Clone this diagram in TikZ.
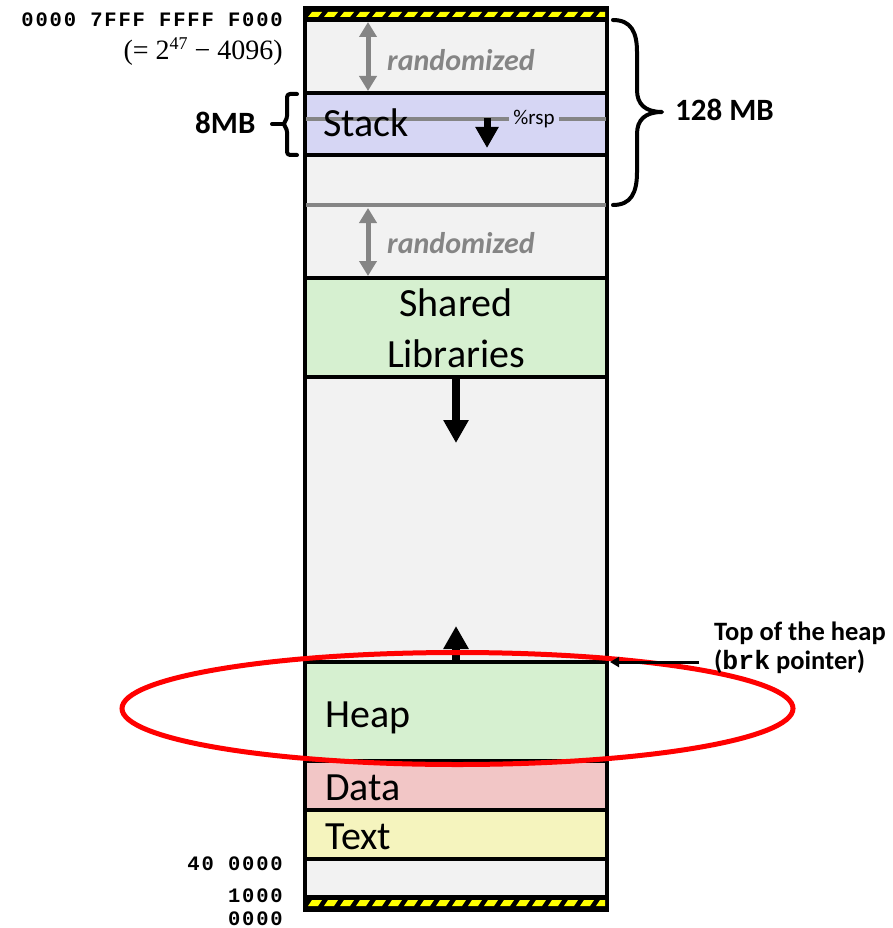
\documentclass[tikz,border=0pt]{standalone}
\usepackage{fontspec}
\setmainfont{Carlito}
\setmonofont{Liberation Mono}
\newfontfamily\eqfont{Liberation Serif}
\usetikzlibrary{arrows.meta}

\definecolor{bggray}{HTML}{F2F2F2}
\definecolor{stackcol}{HTML}{D6D6F4}
\definecolor{libcol}{HTML}{D6F0D0}
\definecolor{datacol}{HTML}{F2C6C6}
\definecolor{textcol}{HTML}{F5F4BE}
\definecolor{midgray}{HTML}{858585}
\definecolor{hatchyellow}{HTML}{FFFF00}

\tikzset{
  seg/.style={rectangle, draw=black, line width=4pt, minimum width=302pt,
    inner sep=0pt, outer sep=0pt},
  bigtext/.style={font=\fontsize{40}{48}\selectfont, inner sep=0pt},
  randtext/.style={font=\fontsize{30}{34}\selectfont\bfseries\itshape,
    text=midgray, inner sep=0pt, anchor=base west},
  randarrow/.style={draw=midgray, line width=5pt,
    {Triangle[width=17pt,length=15pt]}-{Triangle[width=17pt,length=15pt]}},
  growarrow/.style={draw=black, line width=8pt,
    -{Triangle[width=24pt,length=23pt]}},
  addr/.style={font=\fontsize{20.5}{24}\selectfont\ttfamily\bfseries\addfontfeature{LetterSpace=9},
    inner sep=0pt, anchor=base east, text height=14pt, text depth=0pt},
  sizelbl/.style={font=\fontsize{31}{36}\selectfont\bfseries, inner sep=0pt,
    anchor=base west},
  notelbl/.style={font=\fontsize{26.5}{31}\selectfont\bfseries, inner sep=0pt,
    anchor=base west},
  bracestyle/.style={draw=black, line width=4pt, line cap=round,
    line join=round},
}

% yellow/black hazard stripe inside a band from y=#1 to y=#2
\newcommand{\hazardband}[2]{%
  \begin{scope}
    \clip (307,#1) rectangle (605,#2);
    \foreach \i in {0,...,19} {
      \pgfmathsetmacro{\xa}{308+16*\i}
      \fill[hatchyellow] (\xa,#2-1) -- (\xa+10,#2-1) -- (\xa+14,#1+1)
        -- (\xa+4,#1+1) -- cycle;
    }
  \end{scope}}

\begin{document}
\begin{tikzpicture}[x=1pt,y=-1pt]
\useasboundingbox (0,0) rectangle (893,928);

% ---- memory segments, top to bottom ----
\node[seg, fill=black, minimum height=12pt] (topband) at (456,14) {};
\node[seg, fill=bggray, minimum height=73pt] (upper) at (456,56.5) {};
\node[seg, fill=stackcol, minimum height=62pt] (stack) at (456,124) {};
\node[seg, fill=bggray, minimum height=123pt] (midgap) at (456,216.5) {};
\node[seg, fill=libcol, minimum height=99pt] (shlib) at (456,327.5) {};
\node[seg, fill=bggray, minimum height=285pt] (freegap) at (456,519.5) {};
\node[seg, fill=libcol, minimum height=99pt] (heap) at (456,711.5) {};
\node[seg, fill=datacol, minimum height=49pt] (data) at (456,785.5) {};
\node[seg, fill=textcol, minimum height=49pt] (text) at (456,834.5) {};
\node[seg, fill=bggray, minimum height=38pt] (lowgap) at (456,878) {};
\node[seg, fill=black, minimum height=13pt] (botband) at (456,903.5) {};

\hazardband{11}{18}
\hazardband{899}{907}

% ---- top of the 128 MB region (gray marker line) ----
\coordinate (mmaptopL) at (306,205);
\coordinate (mmaptopR) at (606,205);
\draw[midgray, line width=4pt] (mmaptopL) -- (mmaptopR);

% ---- randomized offsets ----
\coordinate (rand1a) at (368,22);
\coordinate (rand1b) at (368,91);
\draw[randarrow] (rand1a) -- (rand1b);
\node[randtext] (rand1lbl) at (387,71) {randomized};

\coordinate (rand2a) at (368,208);
\coordinate (rand2b) at (368,276);
\draw[randarrow] (rand2a) -- (rand2b);
\node[randtext] (rand2lbl) at (387,253) {randomized};

% ---- stack pointer ----
\node[font=\fontsize{21}{24}\selectfont, inner sep=0pt] (rsp) at (534,119) {\%rsp};
\coordinate (rspL) at (306,119);
\coordinate (rspR) at (606,119);
\draw[midgray, line width=4pt] (rspL) -- ([xshift=-4pt]rsp.west);
\draw[midgray, line width=4pt] ([xshift=4pt]rsp.east) -- (rspR);
\node[bigtext, anchor=base west] (stacklbl) at (323,137) {Stack};
\coordinate (spa) at (487,118);
\coordinate (spb) at (487,148);
\draw[draw=black, line width=7pt, -{Triangle[width=22pt,length=21pt]}] (spa) -- (spb);

% ---- segment labels ----
\node[bigtext, anchor=base] (shlbl1) at (456,316) {Shared};
\node[bigtext, anchor=base] (shlbl2) at (456,367) {Libraries};
\node[bigtext, anchor=base west] (heaplbl) at (325,727) {Heap};
\node[bigtext, anchor=base west] (datalbl) at (325,800) {Data};
\node[bigtext, anchor=base west] (textlbl) at (325,849) {Text};

% ---- growth directions ----
\coordinate (libgrow) at (456,443);
\draw[growarrow] (shlib.south) -- (libgrow);
\coordinate (heapgrow) at (456,626);
\draw[growarrow] (heap.north) -- (heapgrow);

% ---- braces ----
\coordinate (bigbraceTop) at (613,20);
\coordinate (bigbraceBot) at (613,205);
\draw[bracestyle] (bigbraceTop)
  .. controls (631,20) and (637,32) .. (637,52) -- (637,90)
  .. controls (637,104) and (645,112) .. (662,112)
  .. controls (645,112) and (637,120) .. (637,134) -- (637,172)
  .. controls (637,193) and (631,205) .. (bigbraceBot);
\node[sizelbl] (mb128) at (675,121) {128 MB};

\coordinate (smbraceTop) at (297,94);
\coordinate (smbraceBot) at (297,155);
\draw[bracestyle, rounded corners=3pt] (smbraceTop) -- (287,94) -- (287,119)
  -- (283,124) -- (287,129) -- (287,155) -- (smbraceBot);
\coordinate (smbraceTip) at (272,124);
\draw[bracestyle] (283,124) -- (smbraceTip);
\node[sizelbl] (mb8) at (195,134) {8MB};

% ---- addresses ----
\node[addr] (addrtop) at (283,27) {0000 7FFF FFFF F000};
\node[inner sep=0pt, anchor=base east, font=\fontsize{28}{32}\selectfont\eqfont]
  (addreq) at (283,60) {(= 2\raisebox{10pt}{\fontsize{18}{20}\selectfont 47} − 4096)};
\node[addr] (addr40) at (283,870) {40 0000};
\node[addr] (addr1a) at (283,902) {1000};
\node[addr] (addr1b) at (283,925) {0000};

% ---- highlight of the heap ----
\draw[red, line width=5pt] (457.5,708.5) ellipse [x radius=335.5pt, y radius=56pt];

% ---- brk pointer ----
\coordinate (brkfrom) at (699,662);
\coordinate (brkto) at (610,662);
\draw[black, line width=3pt, -{Triangle[width=10pt,length=9pt]}] (brkfrom) -- (brkto);
\node[notelbl] (brklbl) at (714,640) {Top of the heap};
\node[notelbl] (brklbl2) at (714,669) {({\ttfamily brk} pointer)};
\end{tikzpicture}
\end{document}
